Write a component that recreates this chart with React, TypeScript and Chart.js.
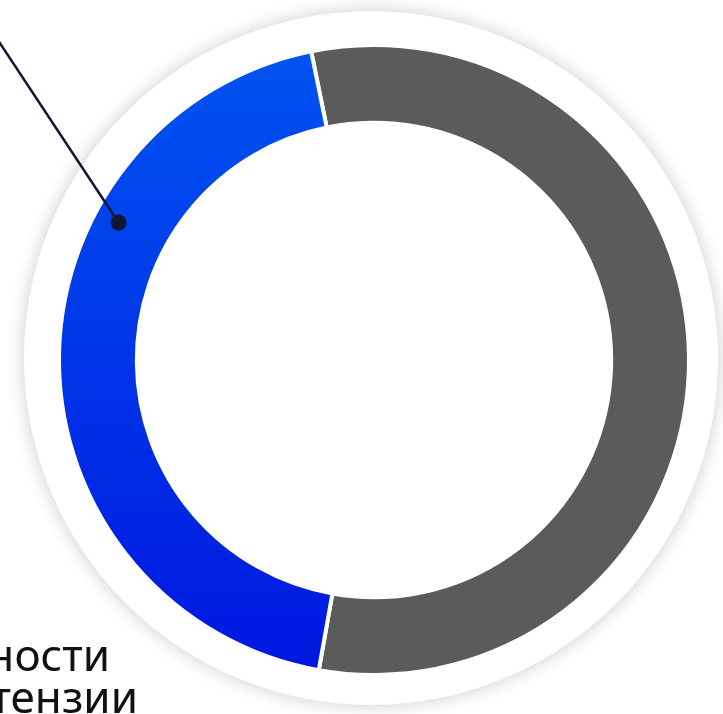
import React, { useEffect, useRef } from "react";
import { Chart, registerables } from "chart.js";

Chart.register(...registerables);

const categories = ["Прочие", "Обоснованные претензии"];
const values = [56, 44];
const segmentColors = ["#5b5b5b", "blue-gradient"];
const labelLines = ["обоснованности", "претензии"];

const W = 723;
const H = 714;

const backdropPlugin = {
  id: "backdrop",
  beforeDraw(chart: any) {
    const meta = chart.getDatasetMeta(0);
    const arc = meta.data[0];
    if (!arc) return;
    const { ctx } = chart;
    ctx.save();
    ctx.shadowColor = "rgba(0,0,0,0.2)";
    ctx.shadowBlur = 18;
    ctx.fillStyle = "#ffffff";
    ctx.beginPath();
    ctx.arc(arc.x - 3, arc.y - 2, arc.outerRadius + 32, 0, Math.PI * 2);
    ctx.fill();
    ctx.restore();
  },
};

const calloutPlugin = {
  id: "callout",
  afterDraw(chart: any) {
    const meta = chart.getDatasetMeta(0);
    const arc = meta.data[1];
    if (!arc) return;
    const { ctx } = chart;
    const a = arc.startAngle + (arc.endAngle - arc.startAngle) * 0.683;
    const r = arc.innerRadius + (arc.outerRadius - arc.innerRadius) * 0.68;
    const px = arc.x + Math.cos(a) * r;
    const py = arc.y + Math.sin(a) * r;
    ctx.save();
    ctx.strokeStyle = "#111633";
    ctx.lineWidth = 2.5;
    ctx.beginPath();
    ctx.moveTo(px, py);
    ctx.lineTo(px - 119 * 1.5, py - 180 * 1.5);
    ctx.stroke();
    ctx.fillStyle = "#111633";
    ctx.beginPath();
    ctx.arc(px, py, 8, 0, Math.PI * 2);
    ctx.fill();

    ctx.fillStyle = "#111111";
    ctx.font = '400 44px "Noto Sans"';
    ctx.textAlign = "right";
    ctx.textBaseline = "alphabetic";
    ctx.fillText(labelLines[0], 110, 671);
    ctx.fillText(labelLines[1], 138, 713);
    ctx.restore();
  },
};

export default function App() {
  const ref = useRef<HTMLCanvasElement>(null);
  useEffect(() => {
    if (!ref.current) return;
    const chart = new Chart(ref.current, {
      type: "doughnut",
      data: {
        labels: categories,
        datasets: [
          {
            data: values,
            backgroundColor: (c: any) => {
              const col = segmentColors[c.dataIndex];
              if (col !== "blue-gradient") return col;
              const g = c.chart.ctx.createLinearGradient(0, 47, 0, 673);
              g.addColorStop(0, "#0054F1");
              g.addColorStop(1, "#0016E0");
              return g;
            },
            borderColor: "#ffffff",
            borderWidth: 4,
            borderAlign: "center",
            borderJoinStyle: "miter",
            hoverOffset: 0,
          } as any,
        ],
      },
      options: {
        responsive: false,
        animation: false,
        rotation: -11.5,
        radius: 315,
        cutout: "75.3%",
        layout: { padding: { left: 25, right: 0, top: 6, bottom: 0 } },
        plugins: {
          legend: { display: false },
          tooltip: { enabled: false },
        },
      } as any,
      plugins: [backdropPlugin, calloutPlugin],
    });
    return () => chart.destroy();
  }, []);
  return (
    <div style={{ position: "absolute", left: 0, top: 0, width: W, height: H, overflow: "hidden", background: "#fff" }}>
      <canvas ref={ref} width={W} height={H} style={{ display: "block", width: W, height: H }} />
    </div>
  );
}
